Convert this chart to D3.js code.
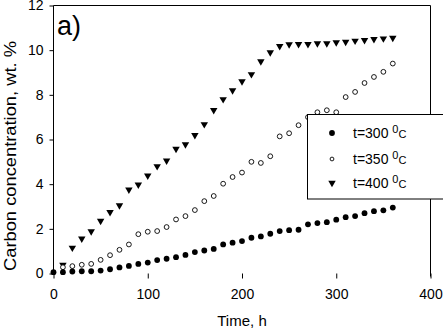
<!DOCTYPE html>
<html><head><meta charset="utf-8">
<script src="https://cdn.jsdelivr.net/npm/d3@7"></script>
<style>body{margin:0;background:#fff}svg{display:block}text{font-family:"Liberation Sans",Arial,sans-serif;fill:#000}</style>
</head><body><svg id="c" width="443" height="330"></svg>
<script>
const hours300 = [0,10,20,30,40,50,60,70,80,90,100,110,120,130,140,150,160,170,180,190,200,210,220,230,240,250,260,270,280,290,300,310,320,330,340,350,360];
const carbon300 = [0.06,0.06,0.09,0.1,0.1,0.13,0.19,0.27,0.34,0.43,0.49,0.6,0.66,0.73,0.83,0.96,1.03,1.1,1.3,1.38,1.45,1.6,1.66,1.78,1.9,1.94,1.96,2.2,2.26,2.3,2.41,2.52,2.57,2.7,2.79,2.83,2.95];
const hours350 = [10,20,30,40,50,60,70,80,90,100,110,120,130,140,150,160,170,180,190,200,210,220,230,240,250,260,270,280,290,300,310,320,330,340,350,360];
const carbon350 = [0.28,0.33,0.39,0.43,0.61,0.82,1.06,1.3,1.76,1.87,1.9,2.08,2.42,2.57,2.84,3.24,3.47,4.02,4.32,4.52,5.0,4.95,5.25,6.14,6.28,6.64,7.0,7.22,7.31,7.22,7.9,8.13,8.53,8.8,9.03,9.4];
const hours400 = [10,20,30,40,50,60,70,80,90,100,110,120,130,140,150,160,170,180,190,200,210,220,230,240,250,260,270,280,290,300,310,320,330,340,350,360];
const carbon400 = [0.39,1.15,1.56,1.88,2.35,2.75,3.05,3.75,3.98,4.38,4.8,5.05,5.58,5.78,6.19,6.68,7.31,7.8,8.2,8.6,8.92,9.5,9.9,10.18,10.26,10.27,10.27,10.3,10.3,10.35,10.37,10.42,10.45,10.49,10.52,10.55];
const xTicks = [0,100,200,300,400];
const yTicks = [0,2,4,6,8,10,12];
const legendLabels = ["t=300","t=350","t=400"];
const panelLabel = "a)";
const xTitle = "Time, h";
const yTitle = "Carbon concentration, wt. %";

const svg = d3.select("#c");
const x = d3.scaleLinear().domain([0,400]).range([53.5,430.5]);
const y = d3.scaleLinear().domain([0,12]).range([273.5,5.5]);

// frame (no bottom line)
svg.append("path").attr("d",`M${x(0)},${y(0)}V${y(12)}H${x(400)}V${y(0)+3}`)
  .attr("fill","none").attr("stroke","#000").attr("stroke-width",1);

// y axis
const ya = svg.append("g").attr("transform",`translate(${x(0)},0)`)
  .call(d3.axisLeft(y).tickValues(yTicks).tickSize(4).tickPadding(6).tickSizeOuter(0));
ya.select(".domain").remove();
ya.selectAll("line").attr("stroke","#000");
ya.selectAll("text").attr("font-size",14).attr("font-family","Liberation Sans, Arial, sans-serif");

// x axis
const xa = svg.append("g").attr("transform",`translate(0,${y(0)})`)
  .call(d3.axisBottom(x).tickValues(xTicks).tickSize(5).tickPadding(11).tickSizeOuter(0));
xa.select(".domain").remove();
xa.selectAll("line").attr("stroke","#000");
xa.selectAll("text").attr("font-size",14).attr("font-family","Liberation Sans, Arial, sans-serif");

// titles
svg.append("text").attr("x",242).attr("y",326).attr("text-anchor","middle").attr("font-size",15).text(xTitle);
svg.append("text").attr("transform","translate(16,156) rotate(-90)").attr("text-anchor","middle")
  .attr("font-size",17).attr("textLength",230).attr("lengthAdjust","spacingAndGlyphs").text(yTitle);
svg.append("text").attr("x",57).attr("y",35).attr("font-size",27).text(panelLabel);

const tri = d3.symbol().type(d3.symbolTriangle).size(24);
// series
const g = svg.append("g");
g.selectAll(".s400").data(d3.zip(hours400,carbon400)).join("path")
  .attr("d",tri).attr("transform",d=>`translate(${x(d[0])},${y(d[1])}) rotate(180)`).attr("fill","#000");
g.selectAll(".s350").data(d3.zip(hours350,carbon350)).join("circle")
  .attr("cx",d=>x(d[0])).attr("cy",d=>y(d[1])).attr("r",2.4).attr("fill","#fff").attr("stroke","#000").attr("stroke-width",0.9);
g.selectAll(".s300").data(d3.zip(hours300,carbon300)).join("circle")
  .attr("cx",d=>x(d[0])).attr("cy",d=>y(d[1])).attr("r",2.9).attr("fill","#000");

// legend
const lg = svg.append("g");
lg.append("rect").attr("x",307.5).attr("y",114.5).attr("width",150).attr("height",84.5)
  .attr("fill","#fff").attr("stroke","#000").attr("stroke-width",1);
const rowsY = [133,159,183];
lg.append("circle").attr("cx",332).attr("cy",rowsY[0]).attr("r",2.9).attr("fill","#000");
lg.append("circle").attr("cx",332).attr("cy",rowsY[1]).attr("r",1.9).attr("fill","#fff").attr("stroke","#000").attr("stroke-width",0.9);
lg.append("path").attr("d",tri).attr("transform",`translate(332,${rowsY[2]}) rotate(180)`).attr("fill","#000");
legendLabels.forEach((t,i)=>{
  const tx = lg.append("text").attr("x",353).attr("y",rowsY[i]+5).attr("font-size",14);
  tx.append("tspan").text(t+" ");
  tx.append("tspan").attr("font-size",11).attr("dy",-5).text("0");
  tx.append("tspan").attr("font-size",11).attr("dy",5).text("C");
});
</script></body></html>
